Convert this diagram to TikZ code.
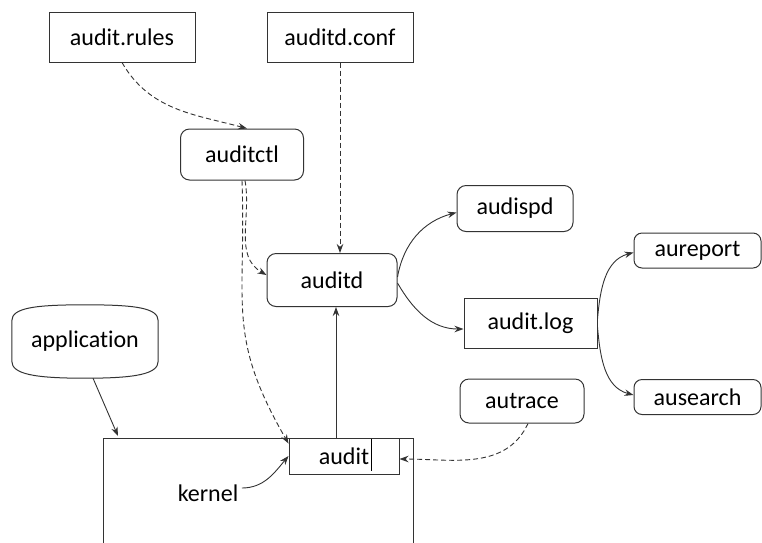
\documentclass[tikz,border=0pt]{standalone}
\usepackage{fontspec}
\setmainfont{Carlito}[Ligatures={NoCommon,NoRare}]
\usepackage{tikz}
\usetikzlibrary{arrows.meta}
\definecolor{edge}{gray}{0.2}

\begin{document}
\begin{tikzpicture}[x=1pt,y=-1pt,
  font=\fontsize{24}{28}\selectfont,
  filebox/.style={draw=edge, line width=1pt, inner sep=0pt},
  progbox/.style={filebox, rounded corners=9pt},
  link/.style={draw=edge, line width=0.9pt, -{Stealth[length=9pt,width=6.5pt]}},
  weak/.style={link, dash pattern=on 5pt off 3pt}]
\useasboundingbox (0,0) rectangle (762,542);
% config files
\node[filebox, minimum width=146pt, minimum height=50pt] (rules) at (122,37) {audit.rules};
\node[filebox, minimum width=146pt, minimum height=50pt] (conf) at (340,37) {auditd.conf};
% user space tools
\node[progbox, minimum width=123pt, minimum height=51pt] (ctl) at (242,154.5) {auditctl};
\node[progbox, minimum width=130pt, minimum height=53pt] (auditd) at (332,280) {auditd};
\node[progbox, minimum width=116pt, minimum height=46pt] (audispd) at (515,208.5) {audispd};
\node[filebox, minimum width=133pt, minimum height=50pt] (log) at (530.5,323) {audit.log};
\node[progbox, minimum width=127pt, minimum height=35pt, rounded corners=8pt] (aureport) at (697.5,250.5) {aureport};
\node[progbox, minimum width=127pt, minimum height=35pt, rounded corners=8pt] (ausearch) at (697.5,397) {ausearch};
\node[progbox, minimum width=124pt, minimum height=44pt] (autrace) at (522,401) {autrace};
\node[minimum width=146pt, minimum height=73pt] (app) at (85,341.5) {application};
\draw[filebox] ([yshift=17pt]app.south west) -- ([yshift=-16pt]app.north west)
  .. controls ([yshift=-3pt]app.north west) and ([xshift=-50pt]app.north) .. (app.north)
  .. controls ([xshift=50pt]app.north) and ([yshift=-3pt]app.north east) .. ([yshift=-16pt]app.north east)
  -- ([yshift=17pt]app.south east)
  .. controls ([yshift=4pt]app.south east) and ([xshift=50pt]app.south) .. (app.south)
  .. controls ([xshift=-50pt]app.south) and ([yshift=4pt]app.south west) .. cycle;
% kernel
\coordinate (kernelNW) at (103,438);
\coordinate (kernelNE) at (413,438);
\draw[filebox] (103,546) -- (kernelNW) -- (kernelNE) -- (413,546);
\node[filebox, minimum width=110pt, minimum height=36pt] (audit) at (344,456) {audit};
\draw[draw=black, line width=0.9pt] ([xshift=27pt,yshift=-1pt]audit.north) -- ([xshift=27pt,yshift=4pt]audit.south);
\node (kernel) at (208,493) {kernel};
% connectors
\draw[weak] (rules.south) to[out=-60,in=165] ([xshift=5pt]ctl.north);
\draw[weak] (conf.south) -- (conf.south |- auditd.north);
\draw[weak] ([xshift=3pt]ctl.south) to[out=-80,in=150] ([yshift=5pt]auditd.west);
\draw[weak] (ctl.south) to[out=-88,in=120,looseness=1.2] ([yshift=-6pt]audit.north west);
\draw[weak] ([xshift=6pt]autrace.south) to[out=-115,in=0] ([yshift=-3pt]audit.east);
\draw[link] ([yshift=5pt]kernel.east) to[out=0,in=-130] (audit.west);
\draw[link] ([xshift=-8pt]audit.north) -- ([xshift=-8pt]audit.north |- auditd.south);
\draw[link] ([xshift=8pt]app.south) -- ([xshift=15pt,yshift=2pt]kernelNW);
\draw[link] ([yshift=3pt]auditd.east) to[out=80,in=195] ([yshift=-4pt]audispd.west);
\draw[link] ([yshift=-3pt]auditd.east) to[out=-60,in=180] ([yshift=-6pt]log.west);
\draw[link] ([yshift=4pt]log.east) to[out=85,in=195] ([yshift=-2pt]aureport.west);
\draw[link] ([yshift=-4pt]log.east) to[out=-85,in=165] ([yshift=2pt]ausearch.west);
\end{tikzpicture}
\end{document}
